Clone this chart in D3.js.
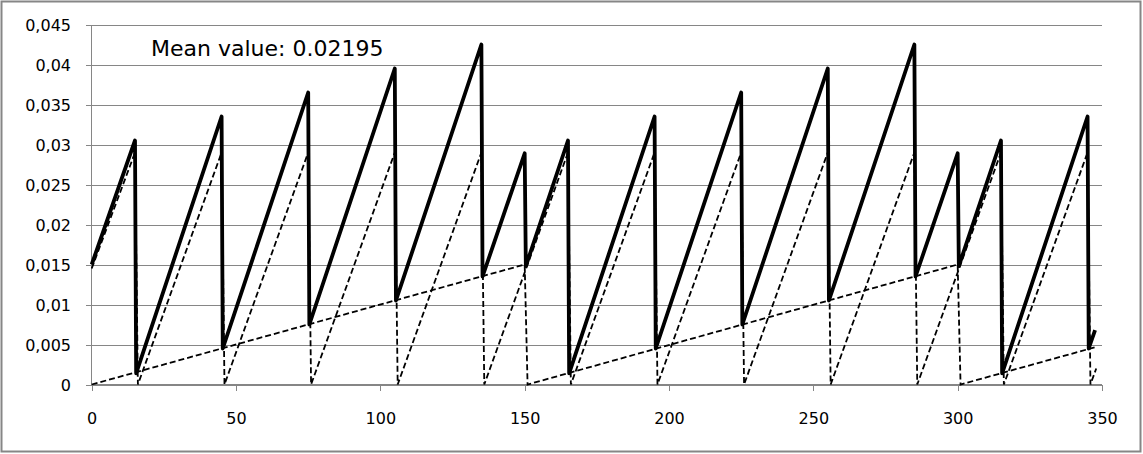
<!DOCTYPE html>
<html>
<head>
<meta charset="utf-8">
<script src="https://cdn.jsdelivr.net/npm/d3@7"></script>
<style>
    body { margin: 0; background: #fff; }
    svg { display: block; }
    text { font-family: "DejaVu Sans", Verdana, sans-serif; fill: #000; }
</style>
</head>
<body>
<svg id="svg-main" width="1143" height="454"></svg>
<script>
// total value (thick solid line), vertices of the sawtooth
var totalX = [0, 15, 15.4, 45, 45.4, 75, 75.4, 105, 105.4, 135, 135.4, 150, 150.4,
    165, 165.4, 195, 195.4, 225, 225.4, 255, 255.4, 285, 285.4, 300, 300.4, 315, 315.4, 345, 345.4, 347.6];
var totalY = [0.0150, 0.0305, 0.0014, 0.0335, 0.0045, 0.0365, 0.0075, 0.0395, 0.0105, 0.0425, 0.0135, 0.0289, 0.0148,
    0.0305, 0.0014, 0.0335, 0.0045, 0.0365, 0.0075, 0.0395, 0.0105, 0.0425, 0.0135, 0.0289, 0.0148, 0.0305, 0.0014, 0.0335, 0.0045, 0.0068];

// fast ramp (dashed)
var fastX = [0, 15, 16, 45, 46, 75, 76, 105, 106, 135, 136, 165, 166, 195, 196, 225, 226, 255, 256, 285, 286, 315, 316, 345, 346, 348];
var fastY = [0.0145, 0.029, 0, 0.029, 0, 0.029, 0, 0.029, 0, 0.029, 0, 0.029, 0, 0.029, 0, 0.029, 0, 0.029, 0, 0.029, 0, 0.029, 0, 0.029, 0, 0.002];

// slow ramp (dashed)
var slowX = [0, 150, 151, 300, 301, 348];
var slowY = [0, 0.0150, 0, 0.0150, 0, 0.0047];

var xTicks = [0, 50, 100, 150, 200, 250, 300, 350];
var yTicks = [0, 0.005, 0.01, 0.015, 0.02, 0.025, 0.03, 0.035, 0.04, 0.045];
var yTickLabels = ["0", "0,005", "0,01", "0,015", "0,02", "0,025", "0,03", "0,035", "0,04", "0,045"];
var meanLabel = "Mean value: 0.02195";

function plot() {
    var svg = d3.select("#svg-main");
    var grey = "#868686";

    var x = d3.scaleLinear().domain([0, 350]).range([91.7, 1102]);
    var y = d3.scaleLinear().domain([0, 0.045]).range([384.5, 24.5]);

    // outer frame
    svg.append("rect")
        .attr("x", 1.5).attr("y", 1.5)
        .attr("width", 1139).attr("height", 450)
        .attr("fill", "none")
        .attr("stroke", grey)
        .attr("stroke-width", 2);

    // horizontal grid + y ticks
    var yAxis = d3.axisLeft(y)
        .tickValues(yTicks)
        .tickSize(-(1102 - 86))
        .tickFormat(function (d, i) { return yTickLabels[i]; });
    var gy = svg.append("g")
        .attr("transform", "translate(86,0)")
        .call(yAxis);
    gy.select(".domain").remove();
    gy.selectAll(".tick line").attr("stroke", grey).attr("shape-rendering", "crispEdges");
    gy.selectAll(".tick text")
        .attr("x", -15)
        .attr("dy", "0.35em")
        .style("font-size", "16px")
        .style("font-family", "'DejaVu Sans', Verdana, sans-serif");

    // y axis line
    svg.append("line")
        .attr("x1", x(0)).attr("x2", x(0))
        .attr("y1", y(0.045)).attr("y2", y(0))
        .attr("stroke", grey)
        .attr("shape-rendering", "crispEdges");

    // x axis
    var gx = svg.append("g")
        .attr("transform", "translate(0," + y(0) + ")")
        .call(d3.axisBottom(x).tickValues(xTicks).tickSize(6).tickFormat(d3.format("d")));
    gx.select(".domain")
        .attr("d", "M" + x(0) + ",0H" + x(350))
        .attr("stroke", grey)
        .attr("shape-rendering", "crispEdges");
    gx.selectAll(".tick line").attr("stroke", grey).attr("shape-rendering", "crispEdges");
    gx.selectAll(".tick text")
        .attr("y", 39.5)
        .attr("dy", "0")
        .style("font-size", "16px")
        .style("font-family", "'DejaVu Sans', Verdana, sans-serif");

    var line = d3.line()
        .x(function (d) { return x(d[0]); })
        .y(function (d) { return y(d[1]); });

    function pairs(xs, ys) {
        return xs.map(function (v, i) { return [v, ys[i]]; });
    }

    svg.append("path")
        .datum(pairs(slowX, slowY))
        .attr("d", line)
        .attr("fill", "none")
        .attr("stroke", "#000")
        .attr("stroke-width", 1.8)
        .attr("stroke-dasharray", "6,3");

    svg.append("path")
        .datum(pairs(fastX, fastY))
        .attr("d", line)
        .attr("fill", "none")
        .attr("stroke", "#000")
        .attr("stroke-width", 1.8)
        .attr("stroke-dasharray", "6,3");

    svg.append("path")
        .datum(pairs(totalX, totalY))
        .attr("d", line)
        .attr("fill", "none")
        .attr("stroke", "#000")
        .attr("stroke-width", 3.8)
        .attr("stroke-linejoin", "round");

    svg.append("text")
        .attr("x", 151)
        .attr("y", 56)
        .style("font-size", "22px")
        .text(meanLabel);
}

plot();
</script>
</body>
</html>
